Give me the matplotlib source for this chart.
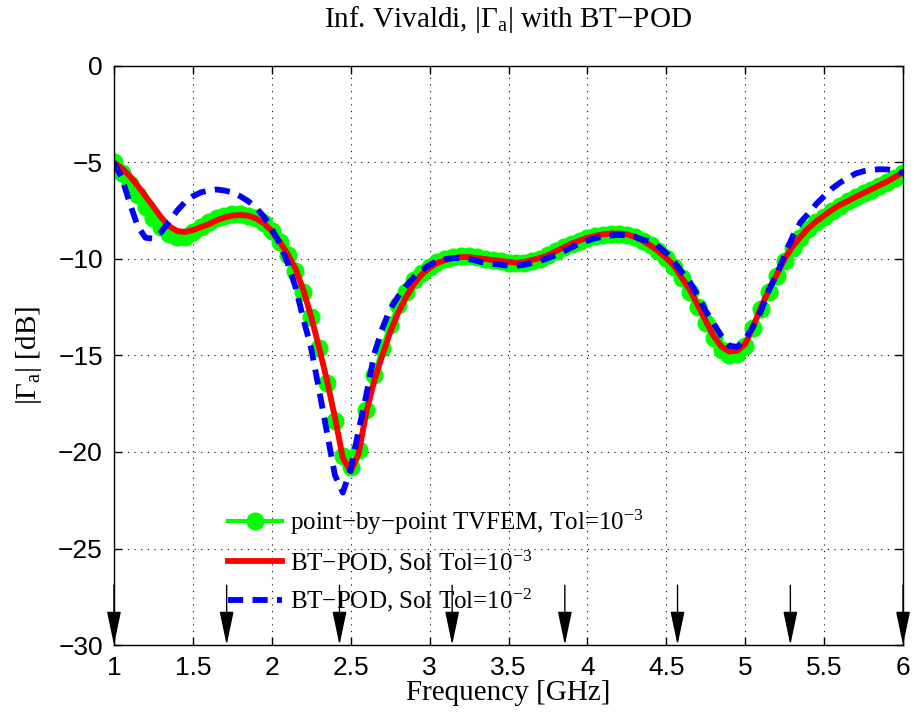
import matplotlib
matplotlib.use("Agg")
import matplotlib.pyplot as plt

# frequency grid [GHz], step 0.05
freq = [round(1.0 + 0.05 * k, 2) for k in range(101)]

# point-by-point TVFEM, Tol=1e-3
tvfem = [
    -5.0, -5.55, -6.1, -6.7, -7.3, -7.85, -8.35, -8.7, -8.85, -8.85,
    -8.6, -8.35, -8.1, -7.9, -7.75, -7.68, -7.68, -7.75, -7.9, -8.15,
    -8.55, -9.1, -9.8, -10.6, -11.7, -13.0, -14.6, -16.4, -18.4, -20.2,
    -20.8, -19.9, -17.8, -16.0, -14.6, -13.4, -12.4, -11.7, -11.1, -10.7,
    -10.4, -10.15, -10.0, -9.9, -9.85, -9.85, -9.9, -10.0, -10.05, -10.1,
    -10.2, -10.2, -10.2, -10.1, -10.0, -9.8, -9.6, -9.4, -9.2, -9.05,
    -8.9, -8.8, -8.75, -8.7, -8.7, -8.75, -8.85, -9.05, -9.3, -9.6,
    -9.95, -10.4, -11.0, -11.7, -12.5, -13.3, -14.1, -14.7, -14.95, -14.9,
    -14.5, -13.6, -12.6, -11.7, -10.9, -10.1, -9.45, -8.9, -8.45, -8.1,
    -7.8, -7.5, -7.25, -7.0, -6.8, -6.6, -6.4, -6.2, -6.0, -5.8,
    -5.55,
]

# BT-POD, Sol Tol=1e-3
btpod3 = [
    -5.0, -5.3, -5.7, -6.2, -6.75, -7.3, -7.85, -8.3, -8.55, -8.6,
    -8.5, -8.35, -8.2, -8.0, -7.85, -7.75, -7.72, -7.75, -7.9, -8.15,
    -8.55, -9.1, -9.75, -10.5, -11.6, -13.0, -14.6, -16.3, -18.2, -20.3,
    -21.0, -20.1, -17.9, -16.3, -15.0, -13.8, -12.8, -12.0, -11.3, -10.8,
    -10.45, -10.2, -10.05, -9.95, -9.9, -9.9, -9.95, -10.0, -10.05, -10.1,
    -10.15, -10.2, -10.15, -10.05, -9.95, -9.8, -9.6, -9.4, -9.2, -9.05,
    -8.9, -8.8, -8.72, -8.68, -8.68, -8.72, -8.85, -9.05, -9.3, -9.6,
    -9.95, -10.35, -11.0, -11.6, -12.4, -13.2, -14.0, -14.55, -14.8, -14.75,
    -14.4, -13.5, -12.5, -11.6, -10.8, -10.0, -9.35, -8.85, -8.4, -8.05,
    -7.75, -7.45, -7.2, -7.0, -6.78, -6.58, -6.38, -6.18, -5.98, -5.75,
    -5.5,
]

# BT-POD, Sol Tol=1e-2
btpod2 = [
    -5.0, -5.8, -7.1, -8.3, -8.9, -8.95, -8.6, -8.05, -7.5, -7.05,
    -6.75, -6.55, -6.45, -6.4, -6.45, -6.55, -6.75, -7.0, -7.35, -7.8,
    -8.45, -9.2, -10.2, -11.45, -13.1, -14.65, -16.8, -19.0, -21.2, -22.1,
    -20.9, -18.9, -17.0, -14.9, -13.6, -12.6, -11.95, -11.4, -10.95, -10.6,
    -10.3, -10.1, -10.0, -9.95, -9.95, -10.0, -10.1, -10.2, -10.25, -10.3,
    -10.35, -10.35, -10.3, -10.2, -10.1, -9.95, -9.8, -9.6, -9.4, -9.2,
    -9.05, -8.92, -8.85, -8.78, -8.75, -8.78, -8.85, -9.0, -9.1, -9.35,
    -9.7, -10.15, -10.7, -11.2, -11.9, -12.7, -13.35, -14.0, -14.5, -14.55,
    -14.15, -13.5, -12.7, -11.6, -10.8, -9.8, -8.85, -8.1, -7.65, -7.15,
    -6.75, -6.35, -6.05, -5.8, -5.57, -5.45, -5.38, -5.35, -5.36, -5.42,
    -5.55,
]

# expansion points marked with arrows
arrow_freqs = [1.0, 1.714, 2.429, 3.143, 3.857, 4.571, 5.286, 6.0]
arrow_top = -26.9

x_ticks = [1, 1.5, 2, 2.5, 3, 3.5, 4, 4.5, 5, 5.5, 6]
y_ticks = [0, -5, -10, -15, -20, -25, -30]


def main() -> None:
    plt.rcParams['font.family'] = ['Liberation Serif', 'DejaVu Serif']
    plt.rcParams['mathtext.fontset'] = 'custom'
    plt.rcParams['mathtext.rm'] = 'Liberation Serif'
    plt.rcParams['mathtext.it'] = 'Liberation Serif:italic'

    fig = plt.figure(figsize=(9.14, 7.15), dpi=100)
    ax = fig.add_axes([0.1247, 0.0979, 0.8633, 0.8098])

    ax.plot(freq, tvfem, '-o', color=(0, 1, 0), lw=3, ms=12,
            mec=(0, 1, 0), mfc=(0, 1, 0),
            label='point\u2212by\u2212point TVFEM, Tol=10$^{\u22123}$')
    ax.plot(freq, btpod3, '-', color='red', lw=4.2,
            label='BT\u2212POD, Sol Tol=10$^{\u22123}$')
    ax.plot(freq, btpod2, color='blue', lw=4.2, ls=(0, (2.6, 1.6)),
            label='BT\u2212POD, Sol Tol=10$^{\u22122}$')

    for f in arrow_freqs:
        ax.annotate('', xy=(f, -30), xytext=(f, arrow_top),
                    arrowprops=dict(arrowstyle='-|>,head_length=1.05,head_width=0.22',
                                    color='black', lw=1, shrinkA=0, shrinkB=0,
                                    mutation_scale=20),
                    annotation_clip=False)

    ax.set_xlim(1, 6)
    ax.set_ylim(-30, 0)
    ax.set_xticks(x_ticks)
    ax.set_yticks(y_ticks)
    ax.set_xticklabels([f'{t:g}' for t in x_ticks])
    ax.set_yticklabels([f'{t:g}'.replace('-', '\u2212') for t in y_ticks])
    for lab in ax.get_xticklabels() + ax.get_yticklabels():
        lab.set_family(['Liberation Sans Narrow', 'Liberation Sans', 'DejaVu Sans'])
        lab.set_fontsize(19)
    ax.tick_params(direction='in', length=6, width=1, top=True, right=True, pad=8)
    ax.grid(True, color='black', ls=(0, (1, 5)), lw=0.8)
    for s in ax.spines.values():
        s.set_linewidth(1)

    ax.set_xlabel('Frequency [GHz]', fontsize=21, labelpad=0)
    ax.set_ylabel(r'|$\Gamma_{\rm a}$| [dB]', fontsize=21, labelpad=10)
    ax.set_title(r'Inf. Vivaldi, |$\Gamma_{\rm a}$| with BT$-$POD', fontsize=21, pad=28)

    ax.legend(loc='center left', bbox_to_anchor=(0.1445, 0.145), frameon=False,
              fontsize=18, handlelength=2.16, handletextpad=0.32,
              labelspacing=0.45, borderaxespad=0, borderpad=0)

    fig.savefig('out.png', dpi=100)


if __name__ == "__main__":
    main()
